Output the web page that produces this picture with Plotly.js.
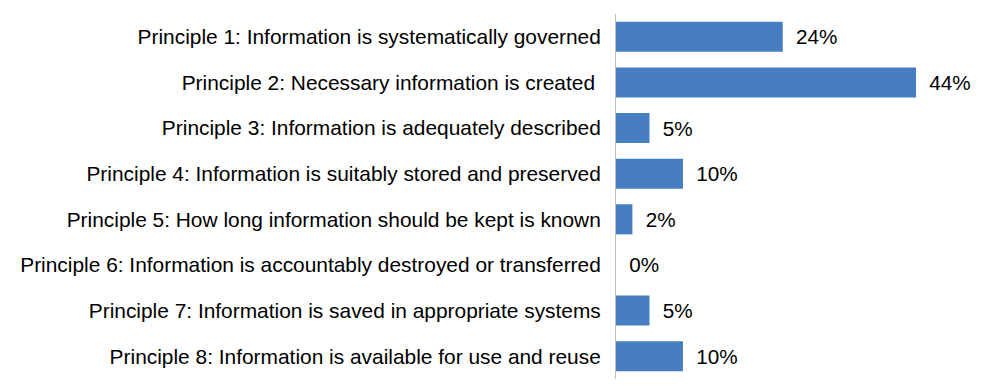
<!DOCTYPE html>
<html>
<head>
<meta charset="utf-8">
<script src="https://cdn.plot.ly/plotly-3.0.1.min.js"></script>
<style>html,body{margin:0;padding:0;background:#fff;}#chart{width:985px;height:392px;}</style>
</head>
<body>
<div id="chart"></div>
<script>
const categories = [
  "Principle 1: Information is systematically governed",
  "Principle 2: Necessary information is created\u00a0",
  "Principle 3: Information is adequately described",
  "Principle 4: Information is suitably stored and preserved",
  "Principle 5: How long information should be kept is known",
  "Principle 6: Information is accountably destroyed or transferred",
  "Principle 7: Information is saved in appropriate systems",
  "Principle 8: Information is available for use and reuse"
];
const values = [24.4, 43.9, 4.9, 9.8, 2.4, 0, 4.9, 9.8];
const labels = ["24%", "44%", "5%", "10%", "2%", "0%", "5%", "10%"];

const trace = {
  type: "bar",
  orientation: "h",
  y: categories,
  x: values,
  text: labels,
  texttemplate: "\u2002%{text}",
  textposition: "outside",
  cliponaxis: false,
  textfont: {family: "Liberation Sans, Arial, sans-serif", size: 20.7, color: "#000000"},
  marker: {color: "#467EC1", line: {width: 0}},
  hoverinfo: "none"
};

const layout = {
  width: 985,
  height: 392,
  margin: {l: 616, r: 15, t: 14, b: 13},
  paper_bgcolor: "#ffffff",
  plot_bgcolor: "#ffffff",
  showlegend: false,
  bargap: 0.34,
  font: {family: "Liberation Sans, Arial, sans-serif", size: 20.9, color: "#000000"},
  xaxis: {
    range: [0, 51.8],
    visible: false,
    showgrid: false,
    zeroline: false,
    fixedrange: true
  },
  yaxis: {
    autorange: "reversed",
    automargin: false,
    showline: true,
    linecolor: "#BFBFBF",
    linewidth: 1,
    showgrid: false,
    zeroline: false,
    ticks: "",
    ticklabelstandoff: 10,
    tickfont: {family: "Liberation Sans, Arial, sans-serif", size: 20.9, color: "#000000"},
    fixedrange: true
  }
};

Plotly.newPlot("chart", [trace], layout, {displayModeBar: false, staticPlot: true});
</script>
</body>
</html>
